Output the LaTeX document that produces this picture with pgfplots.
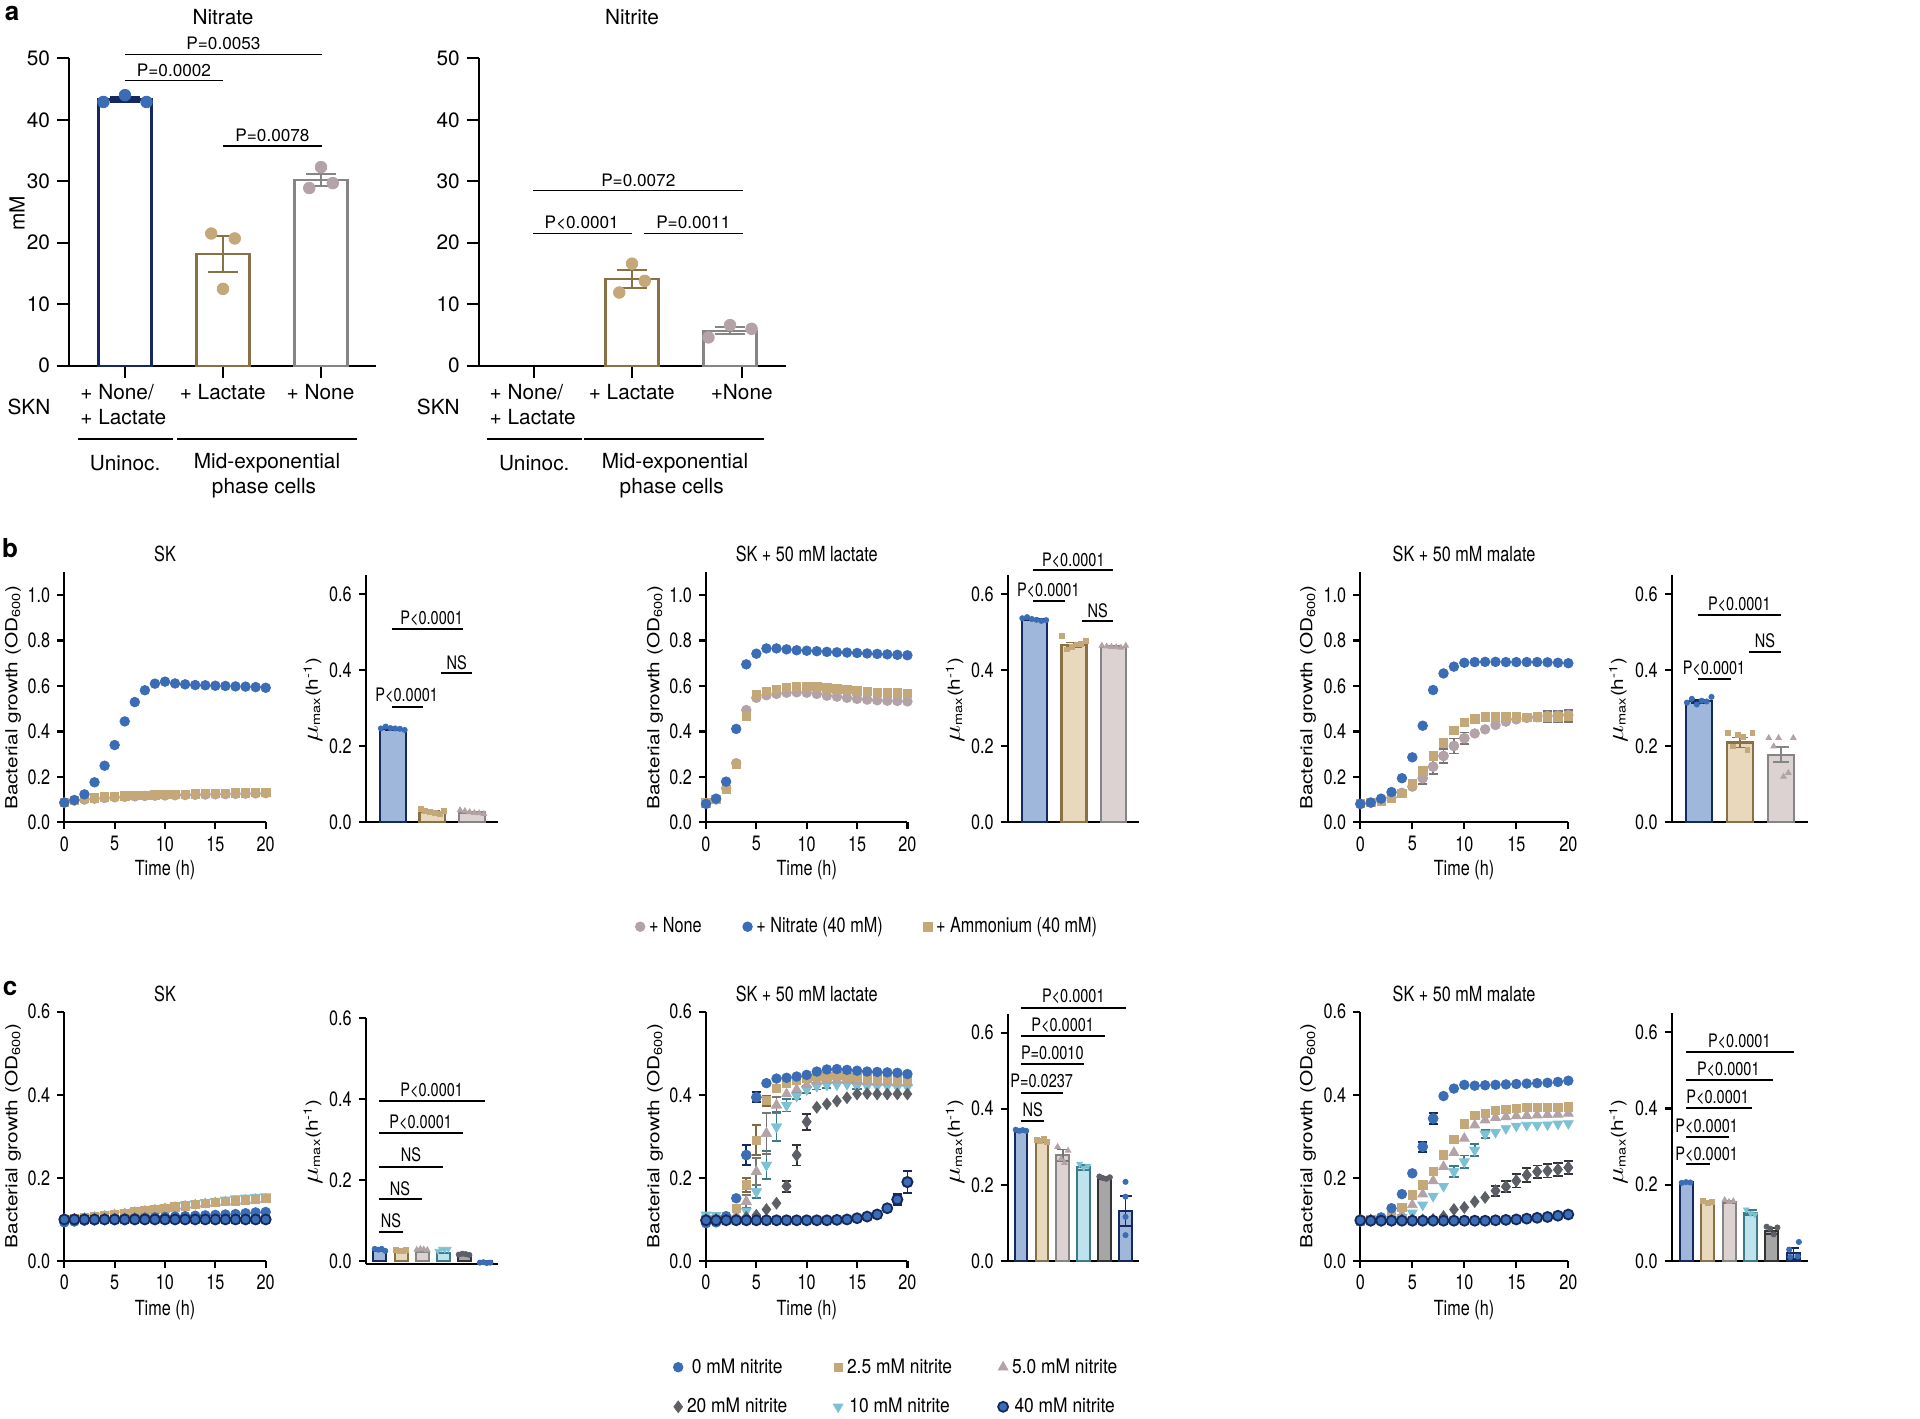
\documentclass[border=0pt]{standalone}
\usepackage{fontspec}
\setmainfont{TeX Gyre Heros}
\newfontfamily\cond[FakeStretch=0.78]{TeX Gyre Heros}
\newfontfamily\condb[FakeStretch=0.87]{TeX Gyre Heros}
\usepackage{graphicx}
\usepackage{pgfplots}
\usepackage{pgfplotstable}
\pgfplotsset{compat=1.18}

\definecolor{cblue}{HTML}{3A6DB5}
\definecolor{cnavy}{HTML}{16295C}
\definecolor{ctan}{HTML}{C4A87A}
\definecolor{cbrown}{HTML}{8A7045}
\definecolor{cmauve}{HTML}{B4A3A6}
\definecolor{cgray}{HTML}{858585}
\definecolor{fblue}{HTML}{9FB7DB}
\definecolor{ftan}{HTML}{E8D9BD}
\definecolor{fmauve}{HTML}{DCD2D2}
\definecolor{clblue}{HTML}{7CC1D4}
\definecolor{cteal}{HTML}{3B7B87}
\definecolor{flblue}{HTML}{BFE3EC}
\definecolor{cdgray}{HTML}{5C5F66}
\definecolor{fdgray}{HTML}{A6A6A6}
\definecolor{cdark}{HTML}{333333}
\definecolor{ctanerr}{HTML}{7D6A45}
\definecolor{cmaverr}{HTML}{767676}

\newcommand\fa{\fontsize{10.4}{12.5}\selectfont}
\newcommand\fap{\fontsize{8.6}{10}\selectfont}
\newcommand\fb{\cond\fontsize{10.4}{12.5}\selectfont}
\newcommand\fbp{\cond\fontsize{9.3}{11}\selectfont}
\newcommand\fcl{\condb\fontsize{10}{12}\selectfont}
\newcommand\flab{\fontsize{10.4}{12.5}\selectfont}
\newcommand\glab{\scalebox{1}[0.8]{Bacterial growth (OD\textsubscript{600})}}
\newcommand\mlab{\scalebox{1}[0.8]{{\fontsize{14.5}{15}\selectfont$\mu$}\textsubscript{max}(h\textsuperscript{-1})}}

\pgfplotsset{
  base/.style={scale only axis, axis lines*=left, clip=false,
    axis line style={line width=1.1pt, black},
    tick style={line width=1.1pt, black},
    tick align=outside,
    /pgf/number format/assume math mode=true},
  pa/.style={base, width=153.5pt, height=153.7pt, ymin=0, ymax=50,
    ytick={0,10,20,30,40,50}, major tick length=6pt,
    ticklabel style={font=\fa}, xticklabels={,,,}, bar width=26.5pt},
  yfmt/.style={yticklabel style={/pgf/number format/.cd, fixed, fixed zerofill, precision=1}},
  gb/.style={base, yfmt, width=100.7pt, height=125pt, xmin=0, xmax=20, ymin=0, ymax=1.1,
    xtick={0,5,10,15,20}, ytick={0,0.2,0.4,0.6,0.8,1.0}, major tick length=3.5pt,
    ticklabel style={font=\fb}},
  gc/.style={gb, height=124.65pt, ymax=0.6, ytick={0,0.2,0.4,0.6}},
  bb/.style={base, yfmt, height=123.5pt, ymin=0, ymax=0.65, ytick={0,0.2,0.4,0.6}, xtick=\empty,
    major tick length=3.5pt, ticklabel style={font=\fb}},
  br/.style 2 args={ybar, bar shift=0pt, fill=#1, draw=#2, line width=1.1pt},
  eb/.style 2 args={error bars/.cd, y dir=both, y explicit,
    error bar style={line width=0.9pt, draw=#1, solid},
    error mark options={rotate=90, line width=0.9pt, draw=#1, mark size=#2}},
  ebo/.style={draw=none, mark=none, forget plot},
  mN/.style={only marks, mark=*, mark size=2.4pt, color=cblue},
  mA/.style={only marks, mark=square*, mark size=2.1pt, color=ctan},
  mO/.style={only marks, mark=*, mark size=2.4pt, color=cmauve},
  mT/.style={only marks, mark=triangle*, mark size=2.8pt, color=cmauve},
  mV/.style={only marks, mark=triangle*, mark size=2.8pt, mark options={rotate=180}, color=clblue},
  mD/.style={only marks, mark=diamond*, mark size=2.9pt, color=cdgray},
  mF/.style={only marks, mark=*, mark size=2.5pt, color=cnavy, mark options={fill=cblue, draw=cnavy, line width=0.9pt}},
  pN/.style={only marks, mark=*, mark size=1.3pt, color=cblue},
  pA/.style={only marks, mark=square*, mark size=1.2pt, color=ctan},
  pT/.style={only marks, mark=triangle*, mark size=1.6pt, color=cmauve},
  pV/.style={only marks, mark=triangle*, mark size=1.6pt, mark options={rotate=180}, color=clblue},
  pD/.style={only marks, mark=*, mark size=1.3pt, color=cdgray},
}

% ---------- growth data ----------
\pgfplotstableread{
t nit amm non
0 0.087 0.088 0.086
1 0.098 0.097 0.095
2 0.123 0.104 0.100
3 0.176 0.108 0.104
4 0.249 0.111 0.107
5 0.340 0.114 0.110
6 0.444 0.116 0.112
7 0.529 0.118 0.114
8 0.581 0.119 0.116
9 0.610 0.121 0.117
10 0.619 0.122 0.118
11 0.611 0.123 0.119
12 0.607 0.124 0.120
13 0.604 0.125 0.121
14 0.603 0.126 0.122
15 0.601 0.127 0.123
16 0.600 0.128 0.124
17 0.598 0.129 0.125
18 0.597 0.130 0.126
19 0.595 0.131 0.127
20 0.592 0.132 0.128
}\bSK
\pgfplotstableread{
t nit amm non
0 0.081 0.085 0.083
1 0.104 0.100 0.100
2 0.179 0.145 0.150
3 0.411 0.255 0.260
4 0.695 0.465 0.494
5 0.742 0.563 0.548
6 0.765 0.576 0.559
7 0.765 0.586 0.565
8 0.761 0.594 0.570
9 0.757 0.598 0.572
10 0.755 0.598 0.570
11 0.753 0.597 0.565
12 0.750 0.591 0.557
13 0.748 0.587 0.553
14 0.747 0.584 0.548
15 0.745 0.579 0.543
16 0.743 0.575 0.540
17 0.741 0.572 0.537
18 0.739 0.570 0.535
19 0.737 0.569 0.534
20 0.735 0.567 0.532
}\bLac
\pgfplotstableread{
t nit amm non
0 0.081 0.082 0.080
1 0.087 0.088 0.086
2 0.104 0.091 0.095
3 0.133 0.104 0.110
4 0.194 0.128 0.130
5 0.286 0.169 0.157
6 0.425 0.227 0.194
7 0.582 0.292 0.245
8 0.655 0.350 0.292
9 0.685 0.405 0.336
10 0.702 0.440 0.370
11 0.705 0.455 0.391
12 0.706 0.463 0.409
13 0.706 0.464 0.428
14 0.705 0.464 0.443
15 0.705 0.463 0.453
16 0.705 0.462 0.459
17 0.705 0.463 0.462
18 0.704 0.464 0.468
19 0.702 0.464 0.470
20 0.700 0.468 0.472
}\bMal
\pgfplotstableread{
t z0 z25 z5 z10 z20 z40
0 0.093 0.100 0.100 0.100 0.100 0.100
1 0.095 0.102 0.101 0.102 0.100 0.100
2 0.097 0.104 0.103 0.104 0.100 0.100
3 0.098 0.106 0.105 0.106 0.100 0.100
4 0.100 0.109 0.108 0.109 0.101 0.100
5 0.101 0.112 0.111 0.112 0.101 0.100
6 0.102 0.115 0.114 0.116 0.101 0.100
7 0.103 0.118 0.117 0.119 0.102 0.100
8 0.104 0.121 0.120 0.122 0.102 0.100
9 0.105 0.124 0.123 0.126 0.102 0.100
10 0.106 0.127 0.126 0.129 0.103 0.100
11 0.107 0.130 0.129 0.132 0.103 0.100
12 0.108 0.133 0.132 0.135 0.103 0.100
13 0.109 0.136 0.135 0.138 0.104 0.100
14 0.110 0.139 0.138 0.141 0.104 0.100
15 0.111 0.141 0.140 0.144 0.104 0.100
16 0.112 0.143 0.142 0.147 0.105 0.100
17 0.113 0.145 0.144 0.150 0.105 0.100
18 0.115 0.147 0.146 0.152 0.105 0.100
19 0.117 0.149 0.148 0.154 0.106 0.100
20 0.118 0.150 0.149 0.155 0.106 0.100
}\cSK
\pgfplotstableread{
t z0 z25 z5 z10 z20 z40
0 0.091 0.100 0.100 0.111 0.100 0.098
1 0.093 0.100 0.100 0.110 0.100 0.098
2 0.108 0.100 0.100 0.102 0.100 0.098
3 0.151 0.127 0.110 0.100 0.100 0.098
4 0.255 0.183 0.143 0.120 0.105 0.098
5 0.394 0.291 0.215 0.167 0.110 0.098
6 0.428 0.386 0.307 0.231 0.124 0.098
7 0.439 0.415 0.375 0.323 0.139 0.098
8 0.441 0.427 0.402 0.375 0.180 0.098
9 0.444 0.436 0.413 0.397 0.255 0.098
10 0.448 0.440 0.424 0.413 0.335 0.098
11 0.456 0.444 0.432 0.421 0.370 0.098
12 0.461 0.445 0.434 0.424 0.378 0.098
13 0.462 0.447 0.435 0.424 0.385 0.099
14 0.460 0.444 0.434 0.425 0.393 0.100
15 0.458 0.442 0.432 0.421 0.402 0.103
16 0.456 0.440 0.432 0.420 0.403 0.107
17 0.455 0.440 0.430 0.420 0.402 0.112
18 0.454 0.438 0.430 0.420 0.402 0.127
19 0.453 0.436 0.428 0.418 0.402 0.148
20 0.450 0.435 0.428 0.418 0.402 0.190
}\cLac
\pgfplotstableread{
t z0 z25 z5 z10 z20 z40
0 0.095 0.097 0.097 0.098 0.098 0.098
1 0.097 0.100 0.099 0.099 0.098 0.097
2 0.105 0.100 0.100 0.100 0.098 0.097
3 0.127 0.107 0.103 0.101 0.098 0.097
4 0.161 0.129 0.112 0.105 0.099 0.097
5 0.211 0.159 0.135 0.116 0.099 0.097
6 0.275 0.183 0.161 0.135 0.099 0.097
7 0.343 0.215 0.193 0.156 0.100 0.097
8 0.397 0.255 0.227 0.180 0.107 0.097
9 0.415 0.293 0.261 0.215 0.124 0.097
10 0.424 0.330 0.295 0.239 0.129 0.097
11 0.422 0.351 0.327 0.267 0.143 0.097
12 0.423 0.355 0.339 0.306 0.153 0.097
13 0.424 0.363 0.345 0.310 0.169 0.098
14 0.425 0.365 0.347 0.319 0.179 0.099
15 0.426 0.367 0.349 0.325 0.193 0.100
16 0.427 0.369 0.350 0.327 0.207 0.102
17 0.428 0.369 0.351 0.327 0.215 0.104
18 0.429 0.369 0.352 0.328 0.217 0.106
19 0.431 0.370 0.353 0.330 0.220 0.109
20 0.434 0.371 0.355 0.331 0.225 0.112
}\cMal

\begin{document}
\begin{tikzpicture}[x=0.5pt,y=-0.5pt]
\useasboundingbox (0,0) rectangle (1920,1418);

% ================= panel a =================
\begin{axis}[pa, xmin=-0.571, xmax=2.561, xtick={0,1,2}, at={(34.5pt,-182.85pt)}, anchor=south west]
\addplot[br={white}{cnavy}] coordinates {(0,43.3)};
\addplot[br={white}{cbrown}] coordinates {(1,18.2)};
\addplot[br={white}{cgray}] coordinates {(2,30.2)};
\addplot[only marks, mark=*, mark size=2.9pt, color=cblue] coordinates {(-0.22,42.9) (0,44.0) (0.22,42.9)};
\addplot[only marks, mark=*, mark size=2.9pt, color=ctan] coordinates {(0.88,21.5) (1.12,20.7) (1,12.5)};
\addplot[only marks, mark=*, mark size=2.9pt, color=cmauve] coordinates {(1.88,28.9) (2,32.3) (2.12,29.7)};
\addplot[ebo, eb={cnavy}{7.3pt}] coordinates {(0,43.3)+-(0,0.45)};
\addplot[ebo, eb={cbrown}{7.3pt}] coordinates {(1,18.2)+-(0,2.9)};
\addplot[ebo, eb={cgray}{7.3pt}] coordinates {(2,30.2)+-(0,1.0)};
\end{axis}

\begin{axis}[pa, width=153.65pt, xmin=-0.564, xmax=2.571, xtick={0,1,2.12}, at={(239.35pt,-182.85pt)}, anchor=south west]
\addplot[br={white}{cbrown}] coordinates {(1,14.1)};
\addplot[br={white}{cgray}] coordinates {(2,5.7)};
\addplot[only marks, mark=*, mark size=2.9pt, color=ctan] coordinates {(0.87,11.9) (1,16.6) (1.13,13.8)};
\addplot[only marks, mark=*, mark size=2.9pt, color=cmauve] coordinates {(1.78,4.6) (2,6.6) (2.22,6.0)};
\addplot[ebo, eb={cbrown}{7.3pt}] coordinates {(1,14.1)+-(0,1.45)};
\addplot[ebo, eb={cgray}{7.3pt}] coordinates {(2,5.7)+-(0,0.6)};
\end{axis}

\node[font=\bfseries\fontsize{13}{15}\selectfont] at (12,13) {a};
\node[font=\fa] at (223,17) {Nitrate};
\node[font=\fa] at (632,17) {Nitrite};
\node[font=\fa, rotate=90] at (17,213) {mM};
\begin{scope}[line width=0.75pt]
\draw (125,54.3)--(322,54.3); \node[font=\fap] at (223.5,43) {P=0.0053};
\draw (125,80.3)--(223,80.3); \node[font=\fap] at (174,70) {P=0.0002};
\draw (223,146)--(322,146); \node[font=\fap] at (272.5,135) {P=0.0078};
\draw (533.3,190.7)--(742.7,190.7); \node[font=\fap] at (638.3,180) {P=0.0072};
\draw (533.3,233.3)--(631.7,233.3); \node[font=\fap] at (581.7,222.7) {P<0.0001};
\draw (644.3,233.3)--(742.7,233.3); \node[font=\fap] at (693.3,222.7) {P=0.0011};
\end{scope}
\node[font=\fa, anchor=west, inner sep=0pt] at (80,392) {+ None/};
\node[font=\fa, anchor=west, inner sep=0pt] at (80,417) {+ Lactate};
\node[font=\fa] at (222.7,392) {+ Lactate};
\node[font=\fa] at (320.5,392) {+ None};
\node[font=\fa] at (29,407) {SKN};
\draw[line width=1pt] (78,439)--(173,439) (177,439)--(357,439);
\node[font=\fa] at (125.2,463) {Uninoc.};
\node[font=\fa] at (267,463) {Mid-exponential};
\node[font=\fa] at (264,488) {phase cells};
\node[font=\fa, anchor=west, inner sep=0pt] at (489.3,392) {+ None/};
\node[font=\fa, anchor=west, inner sep=0pt] at (489.3,417) {+ Lactate};
\node[font=\fa] at (631.7,392) {+ Lactate};
\node[font=\fa] at (741.7,392) {+None};
\node[font=\fa] at (438.3,407) {SKN};
\draw[line width=1pt] (486.7,439)--(581.7,439) (584.3,439)--(764.3,439);
\node[font=\fa] at (534.2,463) {Uninoc.};
\node[font=\fa] at (675,463) {Mid-exponential};
\node[font=\fa] at (671.7,488) {phase cells};

% ================= panel b =================
\begin{axis}[gb, at={(32.15pt,-411.15pt)}, anchor=south west]
\addplot[mO] table[x=t,y=non]{\bSK};
\addplot[mA] table[x=t,y=amm]{\bSK};
\addplot[mN] table[x=t,y=nit]{\bSK};
\end{axis}
\begin{axis}[bb, width=66.3pt, xmin=-0.684, xmax=2.664, bar width=12.85pt, at={(182.85pt,-411.15pt)}, anchor=south west]
\addplot[br={fblue}{cnavy}, eb={cnavy}{4pt}] coordinates {(0,0.245)+-(0,0.002)};
\addplot[br={ftan}{cbrown}, eb={cbrown}{4pt}] coordinates {(1,0.027)+-(0,0.002)};
\addplot[br={fmauve}{cgray}, eb={cgray}{4pt}] coordinates {(2,0.026)+-(0,0.002)};
\addplot[pN] coordinates {(-0.3,0.247) (-0.18,0.252) (-0.06,0.248) (0.06,0.247) (0.18,0.246) (0.3,0.243)};
\addplot[pA] coordinates {(0.7,0.035) (0.82,0.030) (0.94,0.028) (1.06,0.025) (1.18,0.022) (1.3,0.030)};
\addplot[pT] coordinates {(1.7,0.032) (1.82,0.030) (1.94,0.027) (2.06,0.025) (2.18,0.024) (2.3,0.022)};
\end{axis}
\begin{axis}[gb, at={(353pt,-411.15pt)}, anchor=south west]
\addplot[mO] table[x=t,y=non]{\bLac};
\addplot[mA] table[x=t,y=amm]{\bLac};
\addplot[mN] table[x=t,y=nit]{\bLac};
\end{axis}
\begin{axis}[bb, width=65.65pt, xmin=-0.666, xmax=2.633, bar width=12.5pt, at={(503.85pt,-411.15pt)}, anchor=south west]
\addplot[br={fblue}{cnavy}, eb={cnavy}{4pt}] coordinates {(0,0.534)+-(0,0.002)};
\addplot[br={ftan}{cbrown}, eb={cbrown}{4pt}] coordinates {(1,0.467)+-(0,0.006)};
\addplot[br={fmauve}{cgray}, eb={cgray}{4pt}] coordinates {(2,0.462)+-(0,0.002)};
\addplot[pN] coordinates {(-0.3,0.537) (-0.18,0.540) (-0.06,0.535) (0.06,0.533) (0.18,0.530) (0.3,0.532)};
\addplot[pA] coordinates {(0.7,0.490) (0.82,0.455) (0.94,0.462) (1.06,0.468) (1.18,0.470) (1.3,0.478)};
\addplot[pT] coordinates {(1.7,0.465) (1.82,0.463) (1.94,0.462) (2.06,0.461) (2.18,0.460) (2.3,0.465)};
\end{axis}
\begin{axis}[gb, width=104pt, at={(680.15pt,-411.15pt)}, anchor=south west]
\addplot[mO] table[x=t,y=non]{\bMal};
\addplot[mO, eb={cmaverr}{2.3pt}] coordinates {(6,0.194)+-(0,0.025) (7,0.245)+-(0,0.033) (8,0.292)+-(0,0.03) (9,0.336)+-(0,0.033) (10,0.370)+-(0,0.025)};
\addplot[mA] table[x=t,y=amm]{\bMal};
\addplot[mA, eb={cmaverr}{2.3pt}] coordinates {(7,0.292)+-(0,0.02) (18,0.466)+-(0,0.025) (19,0.466)+-(0,0.025) (20,0.468)+-(0,0.025)};
\addplot[mN] table[x=t,y=nit]{\bMal};
\end{axis}
\begin{axis}[bb, width=68.3pt, xmin=-0.672, xmax=2.667, bar width=13.1pt, at={(835.85pt,-411.15pt)}, anchor=south west]
\addplot[br={fblue}{cnavy}, eb={cnavy}{4pt}] coordinates {(0,0.319)+-(0,0.004)};
\addplot[br={ftan}{cbrown}, eb={cbrown}{4pt}] coordinates {(1,0.210)+-(0,0.013)};
\addplot[br={fmauve}{cgray}, eb={cgray}{4pt}] coordinates {(2,0.178)+-(0,0.02)};
\addplot[pN] coordinates {(-0.3,0.315) (-0.18,0.325) (-0.06,0.310) (0.06,0.320) (0.18,0.318) (0.3,0.330)};
\addplot[pA] coordinates {(0.7,0.235) (0.82,0.200) (0.94,0.230) (1.06,0.225) (1.18,0.190) (1.3,0.235)};
\addplot[pT] coordinates {(1.7,0.222) (1.82,0.200) (1.94,0.222) (2.06,0.120) (2.18,0.130) (2.3,0.222)};
\end{axis}

\node[font=\bfseries\fontsize{13}{15}\selectfont] at (10,548) {b};
\node[font=\fb] at (165,554) {SK};
\node[font=\fb] at (806.7,554) {SK + 50 mM lactate};
\node[font=\fb] at (1464,554) {SK + 50 mM malate};
\node[font=\fb] at (165,870) {Time (h)};
\node[font=\fb] at (806.7,870) {Time (h)};
\node[font=\fb] at (1464,870) {Time (h)};
\node[font=\flab, rotate=90] at (13,697.6) {\glab};
\node[font=\flab, rotate=90] at (655,697.6) {\glab};
\node[font=\flab, rotate=90] at (1308,697.6) {\glab};
\node[font=\flab, rotate=90] at (313,700) {\mlab};
\node[font=\flab, rotate=90] at (955,700) {\mlab};
\node[font=\flab, rotate=90] at (1618.3,700) {\mlab};
\begin{scope}[line width=0.9pt]
\draw (391.7,629)--(462.7,629); \node[font=\fbp] at (431.7,618.3) {P<0.0001};
\draw (440.7,673.3)--(472.3,673.3); \node[font=\fbp] at (456.7,662.7) {NS};
\draw (391.7,706.7)--(423.3,706.7); \node[font=\fbp] at (406.7,695.7) {P<0.0001};
\draw (1033.3,570)--(1113.3,570); \node[font=\fbp] at (1073.3,560) {P<0.0001};
\draw (1033.3,600.7)--(1065,600.7); \node[font=\fbp] at (1048.3,590) {P<0.0001};
\draw (1082.3,621)--(1113.3,621); \node[font=\fbp] at (1097.7,611) {NS};
\draw (1698.3,615)--(1780.7,615); \node[font=\fbp] at (1739.3,604) {P<0.0001};
\draw (1749.3,651.7)--(1781,651.7); \node[font=\fbp] at (1765,641) {NS};
\draw (1698.3,679)--(1730.7,679); \node[font=\fbp] at (1714,668.3) {P<0.0001};
\end{scope}

% legend b
\begin{axis}[hide axis, scale only axis, width=10pt, height=10pt, xmin=0, xmax=1, ymin=0, ymax=1,
  at={(317.5pt,-463.35pt)}, anchor=west,
  legend style={at={(0,0.5)}, anchor=west, draw=none, fill=none, inner sep=0pt, font=\fb,
    legend columns=3, /tikz/every even column/.append style={column sep=18.5pt}},
  legend image code/.code={\draw[#1] plot coordinates {(0pt,0pt)};}]
\addlegendimage{mO}
\addlegendentry{+ None}
\addlegendimage{mN}
\addlegendentry{+ Nitrate (40 mM)}
\addlegendimage{mA}
\addlegendentry{+ Ammonium (40 mM)}
\end{axis}

% ================= panel c =================
\begin{axis}[gc, at={(32.15pt,-630.5pt)}, anchor=south west]
\addplot[mV] table[x=t,y=z10]{\cSK};
\addplot[mT] table[x=t,y=z5]{\cSK};
\addplot[mA] table[x=t,y=z25]{\cSK};
\addplot[mD] table[x=t,y=z20]{\cSK};
\addplot[mN] table[x=t,y=z0]{\cSK};
\addplot[mF] table[x=t,y=z40]{\cSK};
\end{axis}
\begin{axis}[bb, width=66pt, height=122.85pt, ymin=-0.0074, ymax=0.6, xmin=-0.68, xmax=5.6, bar width=6.5pt, at={(182.85pt,-632pt)}, anchor=south west]
\addplot[br={fblue}{cnavy}, line width=1pt] coordinates {(0,0.026)};
\addplot[br={ftan}{cbrown}, line width=1pt] coordinates {(1,0.024)};
\addplot[br={fmauve}{cgray}, line width=1pt] coordinates {(2,0.023)};
\addplot[br={flblue}{cteal}, line width=1pt] coordinates {(3,0.021)};
\addplot[br={fdgray}{cdark}, line width=1pt] coordinates {(4,0.015)};
\addplot[br={fblue}{cnavy}, line width=1pt] coordinates {(5,-0.004)};
\addplot[pN] coordinates {(-0.25,0.030) (-0.08,0.028) (0.08,0.030) (0.25,0.025)};
\addplot[pA] coordinates {(0.75,0.027) (0.92,0.026) (1.08,0.025) (1.25,0.027)};
\addplot[pT] coordinates {(1.75,0.028) (1.92,0.030) (2.08,0.029) (2.25,0.027)};
\addplot[pV] coordinates {(2.75,0.025) (2.92,0.030) (3.08,0.028) (3.25,0.030)};
\addplot[pD] coordinates {(3.75,0.016) (3.92,0.018) (4.08,0.017) (4.25,0.015)};
\addplot[pN] coordinates {(4.75,-0.004) (4.92,-0.003) (5.08,-0.005) (5.25,-0.004)};
\end{axis}
\begin{axis}[gc, at={(353pt,-630.5pt)}, anchor=south west]
\addplot[mV] table[x=t,y=z10]{\cLac};
\addplot[mV, eb={cteal}{2.3pt}] coordinates {(5,0.167)+-(0,0.016) (6,0.231)+-(0,0.033) (7,0.323)+-(0,0.035) (8,0.375)+-(0,0.015) (9,0.397)+-(0,0.008) (10,0.413)+-(0,0.008) (11,0.421)+-(0,0.008) (12,0.424)+-(0,0.008) (15,0.421)+-(0,0.007)};
\addplot[mT] table[x=t,y=z5]{\cLac};
\addplot[mT, eb={cmaverr}{2.3pt}] coordinates {(4,0.143)+-(0,0.015) (5,0.215)+-(0,0.032) (6,0.307)+-(0,0.049) (7,0.375)+-(0,0.02)};
\addplot[mA] table[x=t,y=z25]{\cLac};
\addplot[mA, eb={ctanerr}{2.3pt}] coordinates {(4,0.183)+-(0,0.016) (5,0.291)+-(0,0.036) (6,0.386)+-(0,0.012)};
\addplot[mD] table[x=t,y=z20]{\cLac};
\addplot[mD, eb={cdark}{2.3pt}] coordinates {(8,0.180)+-(0,0.013) (9,0.255)+-(0,0.025) (10,0.335)+-(0,0.019)};
\addplot[mN] table[x=t,y=z0]{\cLac};
\addplot[mN, eb={cnavy}{2.3pt}] coordinates {(4,0.255)+-(0,0.024) (5,0.394)+-(0,0.012)};
\addplot[mF] table[x=t,y=z40]{\cLac};
\addplot[mF, eb={cnavy}{2.3pt}] coordinates {(19,0.148)+-(0,0.013) (20,0.190)+-(0,0.026)};
\end{axis}
\begin{axis}[bb, width=65.65pt, height=123.7pt, xmin=-0.636, xmax=5.646, bar width=6.35pt, at={(503.85pt,-630.5pt)}, anchor=south west]
\addplot[br={fblue}{cnavy}, line width=1pt, eb={cnavy}{3pt}] coordinates {(0,0.342)+-(0,0.002)};
\addplot[br={ftan}{cbrown}, line width=1pt, eb={cbrown}{3pt}] coordinates {(1,0.316)+-(0,0.003)};
\addplot[br={fmauve}{cgray}, line width=1pt, eb={cmaverr}{3pt}] coordinates {(2,0.278)+-(0,0.015)};
\addplot[br={flblue}{cteal}, line width=1pt, eb={cteal}{3pt}] coordinates {(3,0.246)+-(0,0.006)};
\addplot[br={fdgray}{cdark}, line width=1pt, eb={cdark}{3pt}] coordinates {(4,0.219)+-(0,0.003)};
\addplot[br={fblue}{cnavy}, line width=1pt, eb={cnavy}{3pt}] coordinates {(5,0.131)+-(0,0.04)};
\addplot[pN] coordinates {(-0.25,0.345) (-0.08,0.342) (0.08,0.344) (0.25,0.342)};
\addplot[pA] coordinates {(0.75,0.318) (0.92,0.316) (1.08,0.320) (1.25,0.312)};
\addplot[pT] coordinates {(1.75,0.300) (1.92,0.268) (2.08,0.258) (2.25,0.290)};
\addplot[pV] coordinates {(2.8,0.255) (3,0.245) (3.2,0.250)};
\addplot[pD] coordinates {(3.75,0.222) (3.92,0.218) (4.08,0.216) (4.25,0.220)};
\addplot[pN] coordinates {(5,0.208) (5,0.169) (5,0.116) (5,0.068)};
\end{axis}
\begin{axis}[gc, width=104pt, at={(680.15pt,-630.5pt)}, anchor=south west]
\addplot[mV] table[x=t,y=z10]{\cMal};
\addplot[mV, eb={cteal}{2.3pt}] coordinates {(9,0.215)+-(0,0.013) (10,0.239)+-(0,0.015) (11,0.267)+-(0,0.015) (12,0.306)+-(0,0.01)};
\addplot[mT] table[x=t,y=z5]{\cMal};
\addplot[mA] table[x=t,y=z25]{\cMal};
\addplot[mD] table[x=t,y=z20]{\cMal};
\addplot[mD, eb={cdark}{2.3pt}] coordinates {(13,0.169)+-(0,0.012) (14,0.179)+-(0,0.013) (15,0.193)+-(0,0.016) (16,0.207)+-(0,0.016) (17,0.215)+-(0,0.015) (18,0.217)+-(0,0.016) (19,0.220)+-(0,0.015) (20,0.225)+-(0,0.015)};
\addplot[mN] table[x=t,y=z0]{\cMal};
\addplot[mN, eb={cnavy}{2.3pt}] coordinates {(6,0.275)+-(0,0.012) (7,0.343)+-(0,0.013)};
\addplot[mF] table[x=t,y=z40]{\cMal};
\end{axis}
\begin{axis}[bb, width=68.3pt, height=123.9pt, xmin=-0.665, xmax=5.69, bar width=6.5pt, at={(835.85pt,-630.5pt)}, anchor=south west]
\addplot[br={fblue}{cnavy}, line width=1pt, eb={cnavy}{3pt}] coordinates {(0,0.206)+-(0,0.002)};
\addplot[br={ftan}{cbrown}, line width=1pt, eb={cbrown}{3pt}] coordinates {(1,0.156)+-(0,0.003)};
\addplot[br={fmauve}{cgray}, line width=1pt, eb={cmaverr}{3pt}] coordinates {(2,0.156)+-(0,0.003)};
\addplot[br={flblue}{cteal}, line width=1pt, eb={cteal}{3pt}] coordinates {(3,0.127)+-(0,0.006)};
\addplot[br={fdgray}{cdark}, line width=1pt, eb={cdark}{3pt}] coordinates {(4,0.079)+-(0,0.008)};
\addplot[br={fblue}{cnavy}, line width=1pt, eb={cnavy}{3pt}] coordinates {(5,0.020)+-(0,0.015)};
\addplot[pN] coordinates {(-0.2,0.205) (0,0.207) (0.2,0.206)};
\addplot[pA] coordinates {(0.8,0.158) (1,0.152) (1.2,0.156)};
\addplot[pT] coordinates {(1.8,0.160) (2,0.155) (2.2,0.157)};
\addplot[pV] coordinates {(2.8,0.135) (3,0.125) (3.2,0.122)};
\addplot[pD] coordinates {(3.75,0.090) (3.92,0.085) (4.08,0.070) (4.25,0.088)};
\addplot[pN] coordinates {(4.8,0.030) (5.25,0.050) (4.85,0.010) (5.2,0.012)};
\end{axis}

\node[font=\bfseries\fontsize{13}{15}\selectfont] at (10,988) {c};
\node[font=\fb] at (165,994) {SK};
\node[font=\fb] at (806.7,994) {SK + 50 mM lactate};
\node[font=\fb] at (1464,994) {SK + 50 mM malate};
\node[font=\fb] at (165,1310) {Time (h)};
\node[font=\fb] at (806.7,1310) {Time (h)};
\node[font=\fb] at (1464,1310) {Time (h)};
\node[font=\flab, rotate=90] at (13,1135.8) {\glab};
\node[font=\flab, rotate=90] at (655,1135.8) {\glab};
\node[font=\flab, rotate=90] at (1308,1135.8) {\glab};
\node[font=\flab, rotate=90] at (313,1141.7) {\mlab};
\node[font=\flab, rotate=90] at (955,1141.7) {\mlab};
\node[font=\flab, rotate=90] at (1618.3,1141.7) {\mlab};
\begin{scope}[line width=0.9pt]
\draw (379,1100.7)--(485,1100.7); \node[font=\fbp] at (431.7,1090) {P<0.0001};
\draw (379,1133.3)--(463.3,1133.3); \node[font=\fbp] at (420.7,1122.3) {P<0.0001};
\draw (379,1166.7)--(443.3,1166.7); \node[font=\fbp] at (411,1155) {NS};
\draw (379,1199.3)--(421.7,1199.3); \node[font=\fbp] at (400,1188.3) {NS};
\draw (379,1232.3)--(403.3,1232.3); \node[font=\fbp] at (391,1220.7) {NS};
\draw (1021,1008.3)--(1126,1008.3); \node[font=\fbp] at (1073.3,996.7) {P<0.0001};
\draw (1021,1036)--(1105,1036); \node[font=\fbp] at (1062.7,1025) {P<0.0001};
\draw (1021,1064.3)--(1084.3,1064.3); \node[font=\fbp] at (1052.3,1053.3) {P=0.0010};
\draw (1021,1092.7)--(1063.3,1092.7); \node[font=\fbp] at (1041.7,1081) {P=0.0237};
\draw (1021,1120.7)--(1044.3,1120.7); \node[font=\fbp] at (1032.7,1109.3) {NS};
\draw (1686,1052.3)--(1794.3,1052.3); \node[font=\fbp] at (1739.3,1041.7) {P<0.0001};
\draw (1686,1080)--(1772.7,1080); \node[font=\fbp] at (1728.3,1069.3) {P<0.0001};
\draw (1686,1108.3)--(1751.7,1108.3); \node[font=\fbp] at (1717.7,1097.7) {P<0.0001};
\draw (1686,1136.7)--(1729.3,1136.7); \node[font=\fbp] at (1706.7,1126) {P<0.0001};
\draw (1686,1164.3)--(1710,1164.3); \node[font=\fbp] at (1706.7,1154) {P<0.0001};
\end{scope}

% legend c
\begin{axis}[hide axis, scale only axis, width=10pt, height=10pt, xmin=0, xmax=1, ymin=0, ymax=1,
  at={(336.5pt,-693.5pt)}, anchor=west,
  legend style={at={(0,0.5)}, anchor=west, draw=none, fill=none, inner sep=0pt, font=\fcl,
    legend columns=3, row sep=7pt, /tikz/every even column/.append style={column sep=21pt}},
  legend image code/.code={\draw[#1] plot coordinates {(0pt,0pt)};}]
\addlegendimage{mN}
\addlegendentry{0 mM nitrite}
\addlegendimage{mA}
\addlegendentry{2.5 mM nitrite}
\addlegendimage{mT}
\addlegendentry{5.0 mM nitrite}
\addlegendimage{mD}
\addlegendentry{20 mM nitrite}
\addlegendimage{mV}
\addlegendentry{10 mM nitrite}
\addlegendimage{mF}
\addlegendentry{40 mM nitrite}
\end{axis}
\end{tikzpicture}
\end{document}
